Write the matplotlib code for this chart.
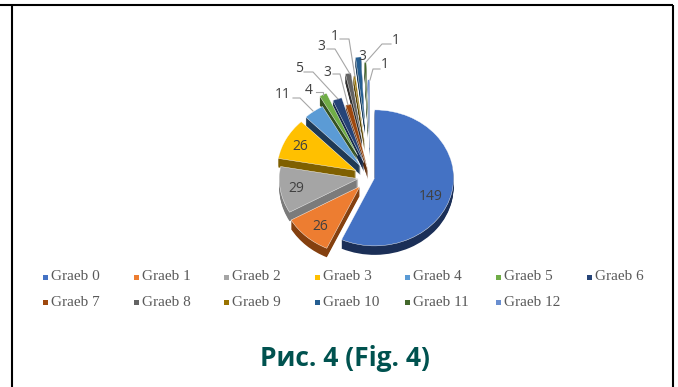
import matplotlib
matplotlib.use('Agg')
import matplotlib.pyplot as plt
from matplotlib.patches import Rectangle
from matplotlib.transforms import Affine2D
import numpy as np

W, H = 678, 387

names = ['Graeb ' + str(i) for i in range(13)]
counts = [149, 26, 29, 26, 11, 4, 5, 3, 3, 1, 3, 1, 1]

top_colors = ['#4472C4', '#ED7D31', '#A5A5A5', '#FFC000', '#5B9BD5', '#70AD47', '#264478',
              '#9E480E', '#636363', '#997300', '#255E91', '#43682B', '#698ED0']
side_colors = ['#1B2F57', '#84400F', '#7B7B7B', '#7F6000', '#1F3A55', '#34511F', '#16294A',
               '#5E2A08', '#2E2E2E', '#5C4500', '#163A5A', '#284019', '#3F5A88']
explode = [0.06, 0.19, 0.15, 0.20, 0.20, 0.35, 0.22, 0.10, 0.55, 0.50, 0.77, 0.69, 0.43]
# back slices are painted first so the front ones overlap them
draw_rank = [8, 11, 10, 9, 7, 6, 5, 4, 3, 2, 1, 0, 0]

# pie centre and radii, in pixels
cx, cy = 370, 177
rx, ry = 79, 68
depth = 9

fig = plt.figure(figsize=(W / 100, H / 100), dpi=100)
ax = fig.add_axes([0, 0, 1, 1])

# image style pixel coordinates, y going down
px = Affine2D().scale(1, -1).translate(0, H)

def draw_pie(colors, offset, base_z):
    wedges, _ = ax.pie(counts, colors=colors, explode=explode, startangle=90, counterclock=False,
                       center=(0, -offset / ry), radius=1)
    for w, r in zip(wedges, draw_rank):
        w.set_zorder(base_z + r * 2)
    return wedges

for d in range(depth, 0, -1):
    draw_pie(side_colors, d, 2)
top = draw_pie(top_colors, 0, 3)
for w, c in zip(top, top_colors):
    w.set_edgecolor('#FFFFFF')
    w.set_linewidth(0.3)

ax.set_aspect('auto')
ax.set_xlim(-cx / rx, (W - cx) / rx)
ax.set_ylim(-(H - cy) / ry, cy / ry)
ax.set_axis_off()

# values with a label sitting on the slice
inside_labels = [(149, 431, 197), (26, 320, 226), (29, 296, 188), (26, 300, 146), (3, 362, 57)]
for val, x, y in inside_labels:
    ax.text(x, y, str(val), transform=px, ha='center', va='center', fontsize=10,
            family=['Open Sans', 'DejaVu Sans'], color='#404040', zorder=40)

# values pulled out of the pie, each with a bent leader line
outside_labels = [
    (11, 283, 95, [(293, 98), (300, 98), (313, 111)]),
    (4, 309, 91, [(316, 92), (323, 92), (323, 95)]),
    (5, 299, 69, [(304, 72), (313, 72), (338, 99)]),
    (3, 327, 72, [(333, 74), (340, 74), (348, 105)]),
    (3, 321, 46, [(327, 49), (335, 49), (350, 74)]),
    (1, 335, 37, [(340, 39), (349, 39), (355, 77)]),
    (1, 396, 41, [(391, 44), (382, 44), (366, 62)]),
    (1, 385, 65, [(380, 69), (373, 69), (370, 80)]),
]
for val, x, y, leader in outside_labels:
    ax.text(x, y, str(val), transform=px, ha='center', va='center', fontsize=10,
            family=['Open Sans', 'DejaVu Sans'], color='#404040', zorder=40)
    lx, ly = zip(*leader)
    ax.plot(lx, ly, transform=px, color='#A6A6A6', lw=0.8, zorder=39)

# legend, seven entries to a row
for i, name in enumerate(names):
    col = i % 7
    row = i // 7
    tx = 51 + col * 90.6
    ty = 277 + row * 25
    ax.add_patch(Rectangle((tx - 8, ty - 2.5), 5, 5, transform=px, color=top_colors[i], lw=0, zorder=40))
    ax.text(tx, ty, name, transform=px, ha='left', va='center', fontsize=11,
            family='Liberation Serif', color='#595959', zorder=40)

ax.text(344.5, 358, 'Рис. 4 (Fig. 4)', transform=px, ha='center', va='center', fontsize=19,
        fontweight='bold', family=['Open Sans', 'DejaVu Sans'], color='#00524F', zorder=40)

# black frame, open at the bottom
ax.plot([0, 673.3], [5, 5], transform=px, color='black', lw=1.5, zorder=50, solid_capstyle='butt')
ax.plot([12, 12], [5, H], transform=px, color='black', lw=1.5, zorder=50, solid_capstyle='butt')
ax.plot([672.5, 672.5], [5, H], transform=px, color='black', lw=1.5, zorder=50, solid_capstyle='butt')

fig.savefig('out.png', dpi=100)
